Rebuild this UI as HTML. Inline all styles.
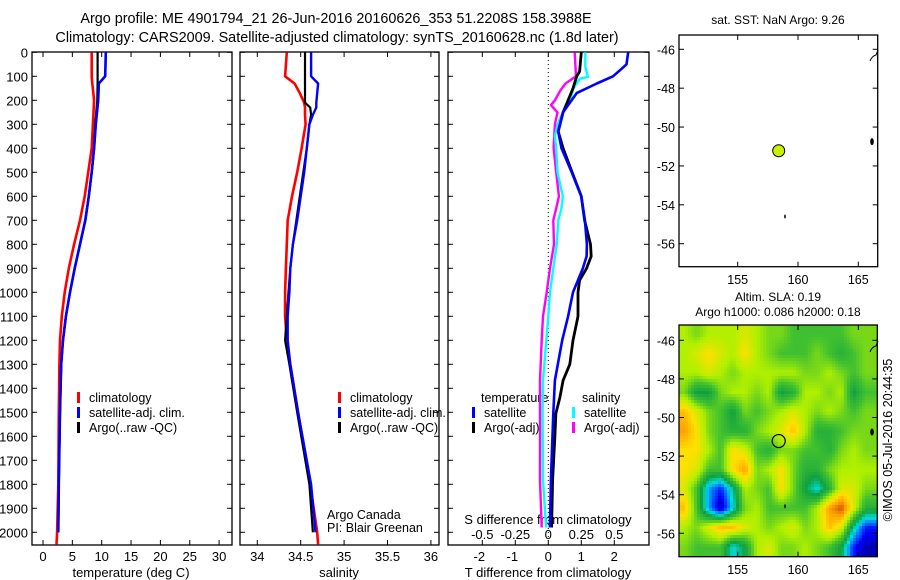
<!DOCTYPE html>
<html><head><meta charset="utf-8">
<style>
html,body{margin:0;padding:0;background:#fff;}
svg{display:block;font-family:"Liberation Sans","DejaVu Sans",sans-serif;}
</style></head>
<body>
<svg id="fig" width="900" height="580" viewBox="0 0 900 580" xmlns="http://www.w3.org/2000/svg">
<defs>
<clipPath id="c1"><rect x="32" y="52" width="200" height="493"/></clipPath>
<clipPath id="c2"><rect x="240" y="52" width="199" height="493"/></clipPath>
<clipPath id="c3"><rect x="448" y="52" width="201" height="493"/></clipPath>
<clipPath id="cm2"><rect x="679" y="325" width="198" height="232"/></clipPath>
</defs>
<text x="336" y="23" font-size="14.4" text-anchor="middle">Argo profile: ME 4901794_21 26-Jun-2016 20160626_353 51.2208S 158.3988E</text>
<text x="337" y="42" font-size="14.4" text-anchor="middle">Climatology: CARS2009. Satellite-adjusted climatology: synTS_20160628.nc (1.8d later)</text>
<g id="heat" clip-path="url(#cm2)"></g>
<g id="axes"></g>
<g id="lines"></g>
<text transform="translate(892,440) rotate(-90)" font-size="12.5" text-anchor="middle">©IMOS 05-Jul-2016 20:44:35</text>
</svg>
<script>
// ---------- profile data ----------
const tDepth = [0,100,130,200,300,400,500,600,700,800,900,1000,1100,1200,1300,1500,1800,2000,2050];
const tClim  = [8.3,8.3,8.4,8.7,8.5,8.3,7.7,7.1,6.3,5.3,4.4,3.7,3.2,2.9,2.8,2.7,2.6,2.4,2.3];
const tSat   = [10.7,10.6,9.5,9.4,9.0,8.7,8.3,7.8,7.2,6.3,5.4,4.6,3.9,3.4,3.1,2.9,2.7,2.6];
const tArgo  = [9.3,9.3,9.3,9.25,8.9,8.7,8.3,7.8,7.2,6.3,5.4,4.6,3.9,3.4,3.1,2.9,2.7,2.6];
const sDepth = [0,100,130,170,210,230,260,300,400,500,600,700,800,900,1000,1100,1200,1300,1500,1800,2000,2050];
const sClim  = [34.34,34.32,34.43,34.49,34.54,34.55,34.55,34.556,34.51,34.46,34.40,34.35,34.34,34.33,34.32,34.32,34.34,34.38,34.47,34.61,34.69,34.70];
const sSat   = [34.62,34.62,34.70,34.69,34.68,34.68,34.64,34.60,34.57,34.54,34.50,34.46,34.41,34.38,34.37,34.35,34.35,34.38,34.47,34.62,34.67];
const sArgo  = [34.55,34.55,34.55,34.55,34.55,34.61,34.62,34.60,34.57,34.53,34.49,34.45,34.41,34.38,34.36,34.34,34.32,34.37,34.46,34.60,34.64];
const dDepth = [0,50,75,100,130,170,250,330,400,500,600,700,800,850,900,1000,1100,1200,1367,1504,1783,1980];
const dTsat  = [2.42,2.37,2.17,1.96,1.47,0.86,0.45,0.3,0.4,0.71,1.0,1.11,1.17,1.16,1.05,0.75,0.6,0.42,0.2,0.15,0.08,0.05];
const adDepth= [0,80,100,150,200,250,330,400,500,600,700,800,850,900,950,1000,1100,1200,1300,1367,1440,1504,1600,1783,1980];
const dTargo = [1.0,0.95,0.86,0.75,0.6,0.45,0.3,0.45,0.72,1.0,1.1,1.28,1.3,1.16,0.95,0.9,0.9,0.75,0.65,0.45,0.35,0.23,0.2,0.13,0.1];
const sdDepth= [0,60,102,110,150,200,250,300,350,400,500,600,650,700,800,900,1000,1100,1200,1367,1504,1783,1980];
const dSsat  = [0.28,0.28,0.30,0.24,0.19,0.165,0.11,0.07,0.05,0.06,0.07,0.11,0.10,0.076,0.064,0.038,0.013,0.0,-0.015,-0.04,-0.043,-0.04,-0.017];
const smDepth= [0,100,130,160,200,220,250,300,400,500,600,650,700,800,900,1000,1100,1200,1367,1504,1783,1980];
const dSargo = [0.2,0.21,0.13,0.09,0.05,0.02,0.07,0.05,0.04,0.06,0.08,0.06,0.038,0.043,0.013,-0.012,-0.04,-0.05,-0.063,-0.063,-0.063,-0.05];
// ---------- map data ----------
const floatLon = 158.40, floatLat = -51.22;
const gridLon0 = 150.6, gridLat0 = -45.7; // 1-degree grid centres
const sla = [
[0.2,0.1,0.2,0.2,0.2,0.3,0.2,0.1,0.1,0,0,0,0,0,0.1,0.1],
[0.2,0.3,0.4,0.3,0.2,0.4,0.2,0.1,0,0,0,0.1,0,-0.1,0,0.1],
[0.2,0.2,0.3,0.2,0.1,0.2,0.2,0.2,0.2,0.2,0.1,0.1,0.2,0.1,0,0.1],
[0.1,-0.2,-0.2,0.1,0.2,0.2,0.1,0.2,-0.2,-0.1,0.2,0.2,0.1,0.2,-0.2,0],
[0.5,0.3,0.1,0,-0.2,0.1,0,0.1,0.2,0.3,0.2,0.1,0.2,0.1,0,0.1],
[0.6,0.4,0.1,0,-0.1,-0.1,0.1,0.2,0.3,0.5,0.2,-0.1,-0.1,0,0.1,0.1],
[0.4,0.4,0.2,0,0.4,0.3,0,-0.1,0.1,0.1,0,0,-0.1,0.1,0.2,0.1],
[0.4,0.3,0,0,0.4,0.6,0.1,0.2,0.4,0.1,-0.1,-0.1,0.1,0.2,0.2,0.2],
[0.3,0,-0.5,-0.7,-0.3,0.2,0.1,0,0.4,0.1,-0.2,-0.4,-0.1,0.3,0.3,0.1],
[0.5,0,-0.5,-0.9,-0.4,0.1,0.2,0,0,0,0,0.2,0.6,0.8,0.3,-0.1],
[0.2,0.1,0.3,0.5,0.5,0.3,0.2,0.1,0.2,0.3,0.1,0.2,0.5,0.3,-0.3,-0.7],
[0.1,0,0,0,-0.4,-0.2,0.2,0.3,0.1,0.1,0.2,0.1,0,-0.2,-0.7,-0.9]
];
const tTicks=[0,5,10,15,20,25,30], sTicks=[34,34.5,35,35.5,36], dTicks=[-2,-1,0,1,2], sdTicks=[-0.5,-0.25,0,0.25,0.5];
const depthTicks=[0,100,200,300,400,500,600,700,800,900,1000,1100,1200,1300,1400,1500,1600,1700,1800,1900,2000];
const lonTicks=[155,160,165], latTicks=[-46,-48,-50,-52,-54,-56];

const NS="http://www.w3.org/2000/svg";
const axes=document.getElementById('axes'), lines=document.getElementById('lines'), heat=document.getElementById('heat');
function mk(tag,attrs,parent){const e=document.createElementNS(NS,tag);for(const k in attrs)e.setAttribute(k,attrs[k]);parent.appendChild(e);return e;}
const yD=d=>52.3+d*0.24;
const xT=t=>43+t*5.87;
const xS=s=>257.3+(s-34)*86.8;
const xDT=t=>548.3+t*33;
const xDS=s=>548.3+s*132;
const mx=l=>737.7+(l-155)*12.06;
const my1=a=>49.3+(-46-a)*19.44;
const my2=a=>340.3+(-46-a)*19.3;

function txt(x,y,s,size,anchor,name,parent){const t=mk('text',{x:x,y:y,'font-size':size,'text-anchor':anchor||'start'},parent||axes);t.textContent=s;return t;}
function box(x,y,w,h,name){const r=mk('rect',{x:x,y:y,width:w,height:h,fill:'none',stroke:'#000','stroke-width':1.3},axes);}
function tick(x1,y1,x2,y2){mk('line',{x1:x1,y1:y1,x2:x2,y2:y2,stroke:'#000','stroke-width':1},axes);}
function line(xs,ys,color,w,clip,name){
  const pts=xs.map((v,i)=>v.toFixed(1)+','+ys[i].toFixed(1)).join(' ');
  const p=mk('polyline',{points:pts,fill:'none',stroke:color,'stroke-width':w,'clip-path':'url(#'+clip+')','stroke-linejoin':'round'},lines);
  
  
}
const panels=[[32,232,'temperature-panel'],[240,439,'salinity-panel'],[448,649,'difference-panel']];
panels.forEach(([l,r,n])=>{
  box(l,52,r-l,493,n);
  depthTicks.forEach(d=>{tick(l,yD(d),l+5,yD(d));tick(r,yD(d),r-5,yD(d));});
});
depthTicks.forEach(d=>txt(28,yD(d)+5,String(d),13,'end','depth-tick-label'));
tTicks.forEach(t=>{tick(xT(t),52,xT(t),57);tick(xT(t),545,xT(t),540);txt(xT(t),561,String(t),13,'middle','temp-tick-label');});
sTicks.forEach(s=>{tick(xS(s),52,xS(s),57);tick(xS(s),545,xS(s),540);txt(xS(s),561,String(s),13,'middle','sal-tick-label');});
dTicks.forEach(t=>{tick(xDT(t),52,xDT(t),57);tick(xDT(t),545,xDT(t),540);txt(xDT(t)-(t<0?3:0),561,String(t),13,'middle','tdiff-tick-label');});
sdTicks.forEach(s=>txt(xDS(s),539,String(s),13,'middle','sdiff-tick-label'));
txt(131,577,'temperature (deg C)',13,'middle','x-axis-title-temperature');
txt(339,577,'salinity',13,'middle','x-axis-title-salinity');
txt(548,577,'T difference from climatology',13,'middle','x-axis-title-tdiff');
txt(548,524,'S difference from climatology',13,'middle','sdiff-axis-title');
mk('line',{x1:548.3,y1:52,x2:548.3,y2:545,stroke:'#000','stroke-width':1,'stroke-dasharray':'1,3'},axes);

line(tClim.map(xT),tDepth.map(yD),'#f00',2.6,'c1','temp-climatology');
line(tSat.map(xT),tDepth.slice(0,tSat.length).map(yD),'#00f',2.6,'c1','temp-satellite');
line(tArgo.map(xT),tDepth.slice(0,tArgo.length).map(yD),'#000',2.2,'c1','temp-argo');
line(tSat.map(xT),tDepth.slice(0,tSat.length).map(yD),'#00f',2.2,'c1','temp-satellite-top');
line(sClim.map(xS),sDepth.map(yD),'#f00',2.6,'c2','sal-climatology');
line(sArgo.map(xS),sDepth.slice(0,sArgo.length).map(yD),'#000',2.2,'c2','sal-argo');
line(sSat.map(xS),sDepth.slice(0,sSat.length).map(yD),'#00f',2.4,'c2','sal-satellite');
line(dSargo.map(xDS),smDepth.map(yD),'#f0f',2.4,'c3','sdiff-argo');
line(dSsat.map(xDS),sdDepth.map(yD),'#0ff',2.4,'c3','sdiff-satellite');
line(dTargo.map(xDT),adDepth.map(yD),'#000',2.8,'c3','tdiff-argo');
line(dTsat.map(xDT),dDepth.map(yD),'#00f',2.6,'c3','tdiff-satellite');

function leg(x,y,color,label,name){mk('rect',{x:x,y:y-10,width:3,height:11,fill:color},axes);txt(x+12,y,label,12.5,'start',name);}
leg(77,402,'#f00','climatology','legend-climatology');
leg(77,417,'#00f','satellite-adj. clim.','legend-satellite-adj');
leg(77,432,'#000','Argo(..raw -QC)','legend-argo');
leg(338,402,'#f00','climatology','legend2-climatology');
leg(338,417,'#00f','satellite-adj. clim.','legend2-satellite-adj');
leg(338,432,'#000','Argo(..raw -QC)','legend2-argo');
txt(481,402,'temperature',12.5,'start','legend-temperature-heading');
leg(472,417,'#00f','satellite','legend-tdiff-satellite');
leg(472,432,'#000','Argo(-adj)','legend-tdiff-argo');
txt(582,402,'salinity',12.5,'start','legend-salinity-heading');
leg(572,417,'#0ff','satellite','legend-sdiff-satellite');
leg(572,432,'#f0f','Argo(-adj)','legend-sdiff-argo');
txt(327,519,'Argo Canada',12.5,'start','pi-institution');
txt(327,532,'PI: Blair Greenan',12.5,'start','pi-name');

const stops=[[-1,[0,0,128]],[-0.75,[0,0,255]],[-0.55,[0,128,255]],[-0.4,[0,224,224]],[-0.2,[16,160,64]],[0,[64,192,48]],[0.2,[176,240,0]],[0.4,[255,224,0]],[0.6,[255,160,0]],[0.8,[208,80,0]],[1,[128,0,0]]];
function cmap(v){v=Math.max(-1,Math.min(1,v));for(let i=1;i<stops.length;i++){if(v<=stops[i][0]){const a=stops[i-1],b=stops[i],f=(v-a[0])/(b[0]-a[0]);return 'rgb('+a[1].map((c,k)=>Math.round(c+(b[1][k]-c)*f)).join(',')+')';}}return 'rgb(128,0,0)';}
function sample(lon,lat){
  let fi=Math.max(0,Math.min(15,lon-gridLon0)), fj=Math.max(0,Math.min(11,gridLat0-lat));
  const i0=Math.min(14,Math.floor(fi)),j0=Math.min(10,Math.floor(fj)),u=fi-i0,w=fj-j0;
  return sla[j0][i0]*(1-u)*(1-w)+sla[j0][i0+1]*u*(1-w)+sla[j0+1][i0]*(1-u)*w+sla[j0+1][i0+1]*u*w;
}
for(let y=325;y<557;y+=3){for(let x=679;x<877;x+=3){
  const lon=155+(x+1.5-737.7)/12.06, lat=-46-(y+1.5-340.3)/19.3;
  mk('rect',{x:x,y:y,width:3.2,height:3.2,fill:cmap(sample(lon,lat))},heat);
}}
box(679,35,198.7,231.7,'sst-map');
box(679,325,198.3,231.7,'sla-map');
txt(778,24,'sat. SST: NaN Argo: 9.26',12,'middle','sst-map-title');
txt(778,301,'Altim. SLA: 0.19',12,'middle','sla-map-title-1');
txt(778,316,'Argo h1000: 0.086 h2000: 0.18',12,'middle','sla-map-title-2');
lonTicks.forEach(l=>{tick(mx(l),35,mx(l),40);tick(mx(l),266.7,mx(l),261.7);txt(mx(l),284,String(l),12.5,'middle','map1-lon-label');
  tick(mx(l),325,mx(l),330);tick(mx(l),556.7,mx(l),551.7);txt(mx(l),574,String(l),12.5,'middle','map2-lon-label');});
latTicks.forEach(a=>{tick(679,my1(a),684,my1(a));tick(877.7,my1(a),872.7,my1(a));txt(675,my1(a)+5,String(a),12.5,'end','map1-lat-label');
  tick(679,my2(a),684,my2(a));tick(877.3,my2(a),872.3,my2(a));txt(675,my2(a)+5,String(a),12.5,'end','map2-lat-label');});
[[my1,35],[my2,325]].forEach(([fy,top])=>{
  mk('path',{d:'M870,'+(fy(-46.6))+' q2,-5 6,-6 l2,-5',fill:'none',stroke:'#000','stroke-width':1},axes);
  mk('ellipse',{cx:872,cy:fy(-50.75),rx:1.8,ry:3.5,fill:'#000'},axes);
  mk('ellipse',{cx:785,cy:fy(-54.6),rx:0.8,ry:2,fill:'#000'},axes);
});
const fp=mk('circle',{cx:mx(floatLon),cy:my1(floatLat),r:6,fill:'#c8f000',stroke:'#000','stroke-width':1},axes);


const fp2=mk('circle',{cx:mx(floatLon),cy:my2(floatLat),r:6.5,fill:'none',stroke:'#000','stroke-width':1.2},axes);


</script>
</body></html>
